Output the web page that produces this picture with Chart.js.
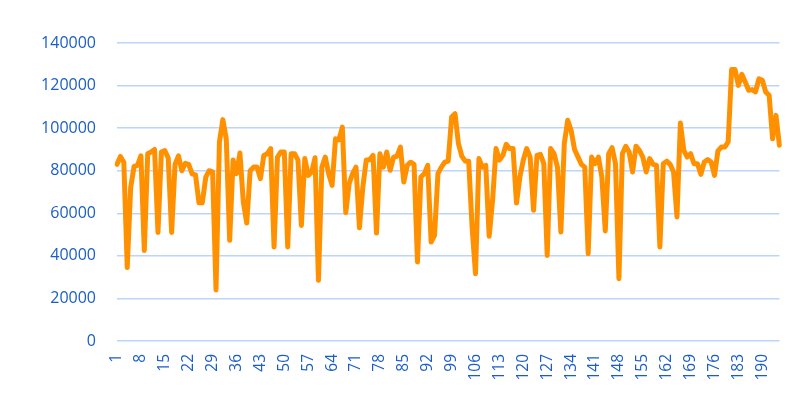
<!DOCTYPE html>
<html>
<head>
<meta charset="utf-8">
<script src="https://cdn.jsdelivr.net/npm/chart.js@4"></script>
<style>
	html, body { margin: 0; padding: 0; background: #ffffff; }
	#wrap { width: 811px; height: 398px; position: relative; }
</style>
</head>
<body>
<div id="wrap"><canvas id="chart"></canvas></div>
<script>
// values, one per day
const values = [
	83000, 86700, 84000, 34500, 72000, 82000, 82500, 87000, 42500, 88000,
	88800, 90000, 51000, 88800, 89500, 86000, 51000, 83000, 87000, 80000,
	83500, 83000, 78500, 78000, 65000, 65000, 77000, 80000, 79500, 24000,
	93500, 104000, 95000, 47300, 85000, 78600, 88300, 65300, 55400, 80000,
	81700, 81700, 76300, 87200, 88000, 90400, 44200, 86400, 88800, 88800,
	44200, 88000, 88000, 85000, 54300, 85700, 77800, 79400, 86100, 28500,
	81700, 86400, 78600, 73100, 95000, 94500, 100500, 60300, 74000, 78600,
	81700, 53200, 72300, 85000, 85200, 87200, 50700, 88000, 81700, 88800,
	80200, 86400, 86800, 91100, 74700, 82500, 84000, 83000, 37100, 77000,
	78600, 82500, 46500, 49600, 78600, 81700, 84000, 84500, 105200, 106800,
	92700, 86800, 84500, 84500, 53500, 31600, 85700, 81700, 82500, 49200,
	66100, 90400, 85000, 87200, 92400, 90400, 90400, 64800, 77000, 85000,
	90400, 86400, 61400, 87200, 87700, 83300, 40200, 90400, 88000, 81700,
	51200, 92700, 103700, 99000, 90000, 86500, 83000, 81700, 41000, 86400,
	83300, 86400, 77000, 51700, 88000, 90800, 83300, 29300, 88000, 91500,
	88800, 79400, 91500, 89600, 86400, 79400, 85700, 83000, 82500, 44200,
	83300, 84500, 83000, 79400, 58300, 102400, 89600, 86400, 88000, 83300,
	83300, 78300, 84100, 85200, 84100, 77800, 89300, 91100, 91100, 93500,
	127500, 127500, 120100, 125300, 121700, 117800, 118100, 117000, 123200, 122500,
	117000, 115400, 95000, 106000, 92000
];

// categories 1..n
const labels = values.map((v, i) => String(i + 1));

const labelEvery = 7;
const yMax = 140000;
const yStep = 20000;

const tickColor = '#1a5dc9';
const gridColor = '#bcd6fb';

new Chart(document.getElementById('chart'), {
	type: 'line',
	data: {
		labels: labels,
		datasets: [{
			data: values,
			borderColor: '#ff9100',
			borderWidth: 5,
			borderJoinStyle: 'round',
			borderCapStyle: 'round',
			pointRadius: 0,
			tension: 0,
			fill: false
		}]
	},
	options: {
		responsive: true,
		maintainAspectRatio: false,
		animation: false,
		layout: { padding: { top: 43, right: 23, bottom: 0, left: 0 } },
		plugins: {
			legend: { display: false },
			tooltip: { enabled: false }
		},
		scales: {
			x: {
				offset: false,
				grid: { display: false, drawTicks: false },
				border: { display: false },
				afterFit: (scale) => { scale.height = 57; },
				ticks: {
					autoSkip: false,
					maxRotation: 90,
					minRotation: 90,
					padding: 13,
					color: tickColor,
					font: { family: 'Open Sans', size: 15.5 },
					callback: function(val, idx) {
						return idx % labelEvery === 0 ? this.getLabelForValue(val) : '';
					}
				}
			},
			y: {
				min: 0,
				max: yMax,
				afterFit: (scale) => { scale.width = 117; },
				grid: { color: gridColor, lineWidth: 1.5, drawTicks: false },
				border: { display: false },
				ticks: {
					stepSize: yStep,
					padding: 21,
					color: tickColor,
					font: { family: 'Open Sans', size: 16 },
					// plain numbers, no thousands separator
					callback: (val) => String(val)
				}
			}
		}
	}
});
</script>
</body>
</html>
